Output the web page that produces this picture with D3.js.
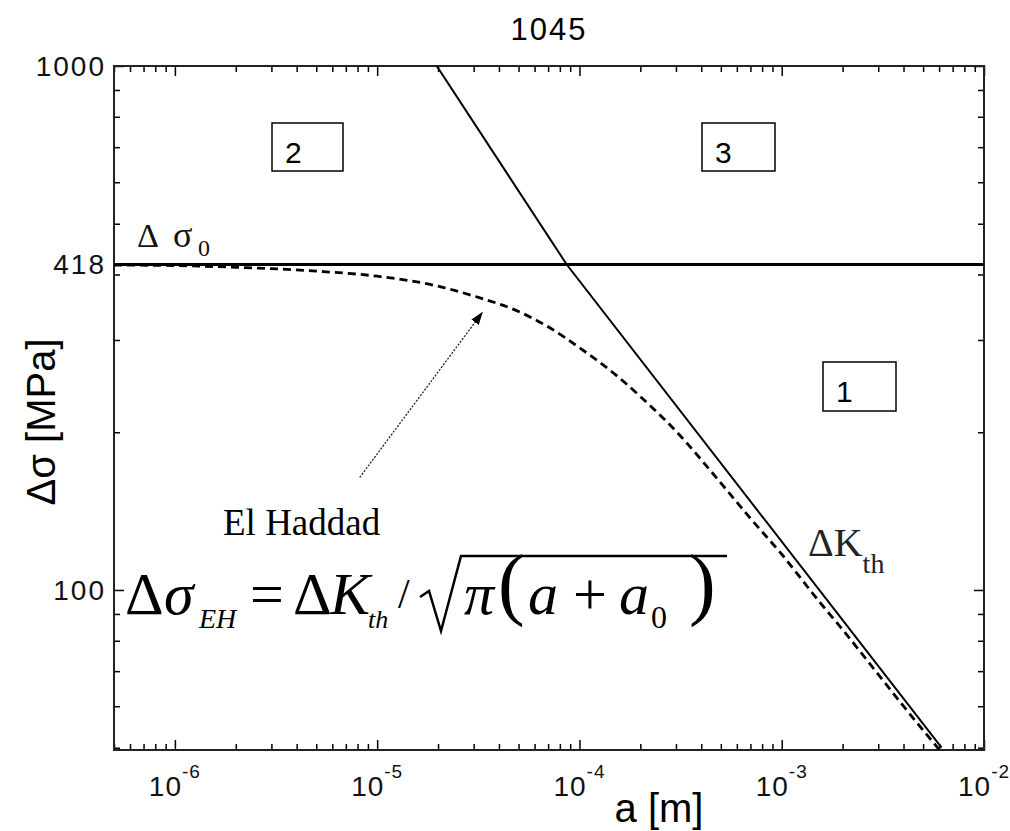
<!DOCTYPE html>
<html><head><meta charset="utf-8">
<script src="https://cdn.jsdelivr.net/npm/d3@7"></script>
<style>
html,body{margin:0;padding:0;background:#fff;}
svg{display:block;}
</style></head><body>
<svg id="chart" width="1010" height="831"></svg>
<script>
// Kitagawa-Takahashi diagram for 1045 steel: crack length a [m] vs stress range [MPa]
const titleText = "1045";
const xTickValues = [1e-6, 1e-5, 1e-4, 1e-3, 1e-2];
const xTickExponents = ["-6", "-5", "-4", "-3", "-2"];
const yTickValues = [100, 418, 1000];
const yTickLabels = ["100", "418", "1000"];
const fatigueLimit = 418;          // plain fatigue limit, MPa
// threshold line (long-crack ΔK_th limit)
const thresholdA = [1.97e-5, 8.65e-5, 6.17e-3];
const thresholdS = [1000, 418, 50];
// El Haddad curve
const elHaddadA = [5e-7, 1e-6, 2e-6, 5e-6, 1e-5, 2e-5, 3e-5, 5e-5, 7e-5, 1e-4, 1.5e-4, 2e-4, 3e-4, 5e-4, 7e-4, 1e-3, 1.5e-3, 2e-3, 3e-3, 4e-3, 5e-3, 6e-3];
const elHaddadS = [417, 416, 413, 406, 397, 380, 364, 340, 318, 290, 258, 234, 201, 160, 137, 117, 96, 84, 69, 60, 54, 49.6];
// region numbers
const regionLabels = ["2", "3", "1"];
// arrow from the "El Haddad" caption to the curve (a, Δσ)
const arrowA = [8.2e-6, 3.3e-5];
const arrowS = [164, 338];

const W = 1010, H = 831;
const mLeft = 114, mRight = 984, mTop = 66, mBottom = 750;
const sans = "'Liberation Sans', Arial, Helvetica, sans-serif";
const serif = "'Liberation Serif', 'Times New Roman', serif";

const svg = d3.select("#chart");
svg.append("rect").attr("width", W).attr("height", H).attr("fill", "#fff");

const x = d3.scaleLog().domain([5e-7, 1e-2]).range([mLeft, mRight]);
const y = d3.scaleLog().domain([49.5, 1000]).range([mBottom, mTop]);

const defs = svg.append("defs");
defs.append("clipPath").attr("id", "plotClip")
  .append("rect").attr("x", mLeft).attr("y", mTop)
  .attr("width", mRight - mLeft).attr("height", mBottom - mTop);
defs.append("marker").attr("id", "head")
  .attr("viewBox", "0 0 10 10").attr("refX", 9).attr("refY", 5)
  .attr("markerWidth", 13).attr("markerHeight", 13)
  .attr("markerUnits", "userSpaceOnUse").attr("orient", "auto")
  .append("path").attr("d", "M0,1.5 L10,5 L0,8.5 Z").attr("fill", "#000");

// ---- ticks (inside, on all four sides)
const xAll = x.ticks();
const xMinor = xAll.filter(v => !xTickValues.some(t => Math.abs(t - v) / t < 1e-6));
const yAll = y.ticks();
const yMinor = yAll.filter(v => v !== 100 && v !== 1000);
const yMajor = [100, 1000];

function tickAxis(axis, tx, ty) {
  const g = svg.append("g").attr("transform", `translate(${tx},${ty})`).call(axis);
  g.select(".domain").remove();
  g.selectAll(".tick line").attr("stroke", "#000").attr("stroke-width", 1.5);
  return g;
}
tickAxis(d3.axisBottom(x).tickValues(xTickValues).tickSize(-10).tickSizeOuter(0).tickFormat(""), 0, mBottom);
tickAxis(d3.axisBottom(x).tickValues(xMinor).tickSize(-6).tickSizeOuter(0).tickFormat(""), 0, mBottom);
tickAxis(d3.axisTop(x).tickValues(xTickValues).tickSize(-10).tickSizeOuter(0).tickFormat(""), 0, mTop);
tickAxis(d3.axisTop(x).tickValues(xMinor).tickSize(-6).tickSizeOuter(0).tickFormat(""), 0, mTop);
tickAxis(d3.axisLeft(y).tickValues(yMajor).tickSize(-10).tickSizeOuter(0).tickFormat(""), mLeft, 0);
tickAxis(d3.axisLeft(y).tickValues(yMinor).tickSize(-6).tickSizeOuter(0).tickFormat(""), mLeft, 0);
tickAxis(d3.axisRight(y).tickValues(yMajor).tickSize(-10).tickSizeOuter(0).tickFormat(""), mRight, 0);
tickAxis(d3.axisRight(y).tickValues(yMinor).tickSize(-6).tickSizeOuter(0).tickFormat(""), mRight, 0);

// frame
svg.append("rect").attr("x", mLeft).attr("y", mTop)
  .attr("width", mRight - mLeft).attr("height", mBottom - mTop)
  .attr("fill", "none").attr("stroke", "#222").attr("stroke-width", 2);

// tick labels
const xl = svg.append("g").attr("font-family", sans).attr("fill", "#111");
xTickValues.forEach((v, i) => {
  const t = xl.append("text").attr("x", x(v)).attr("y", 796)
    .attr("text-anchor", "middle").attr("font-size", 28).attr("letter-spacing", 1);
  t.append("tspan").text("10");
  t.append("tspan").attr("font-size", 19).attr("dy", -18).text(xTickExponents[i]);
});
yTickValues.forEach((v, i) => {
  xl.append("text").attr("x", 106).attr("y", y(v) + 10)
    .attr("text-anchor", "end").attr("font-size", 28).attr("letter-spacing", 2)
    .text(yTickLabels[i]);
});

// title and axis labels
svg.append("text").attr("x", (mLeft + mRight) / 2).attr("y", 40)
  .attr("text-anchor", "middle").attr("font-family", sans).attr("font-size", 31)
  .attr("letter-spacing", 2).text(titleText);
svg.append("text").attr("x", 659).attr("y", 822)
  .attr("text-anchor", "middle").attr("font-family", sans).attr("font-size", 40)
  .text("a [m]");
svg.append("text").attr("transform", "translate(55,422) rotate(-90)")
  .attr("text-anchor", "middle").attr("font-family", sans).attr("font-size", 40)
  .text("Δσ [MPa]");

// ---- curves
const plot = svg.append("g").attr("clip-path", "url(#plotClip)");
const line = d3.line().x(d => x(d[0])).y(d => y(d[1]));

plot.append("path")
  .datum([[x.domain()[0], fatigueLimit], [x.domain()[1], fatigueLimit]])
  .attr("d", line).attr("fill", "none").attr("stroke", "#000").attr("stroke-width", 3.2);

plot.append("path")
  .datum(thresholdA.map((a, i) => [a, thresholdS[i]]))
  .attr("d", line).attr("fill", "none").attr("stroke", "#000").attr("stroke-width", 2);

plot.append("path")
  .datum(elHaddadA.map((a, i) => [a, elHaddadS[i]]))
  .attr("d", d3.line().curve(d3.curveMonotoneX).x(d => x(d[0])).y(d => y(d[1])))
  .attr("fill", "none").attr("stroke", "#000").attr("stroke-width", 2.8)
  .attr("stroke-dasharray", "8,5");

// arrow
svg.append("path")
  .datum(arrowA.map((a, i) => [a, arrowS[i]]))
  .attr("d", line).attr("fill", "none").attr("stroke", "#222").attr("stroke-width", 1.3)
  .attr("stroke-dasharray", "2,1.5").attr("marker-end", "url(#head)");

// ---- region boxes
const boxes = [
  { x: 272, y: 123, w: 71, h: 48 },
  { x: 702, y: 123, w: 73, h: 48 },
  { x: 823, y: 362, w: 73, h: 49 }
];
boxes.forEach((b, i) => {
  svg.append("rect").attr("x", b.x).attr("y", b.y).attr("width", b.w).attr("height", b.h)
    .attr("fill", "#fff").attr("stroke", "#000").attr("stroke-width", 1.5);
  svg.append("text").attr("x", b.x + 13).attr("y", b.y + 40)
    .attr("font-family", sans).attr("font-size", 30).text(regionLabels[i]);
});

// ---- annotations
const s0 = svg.append("g").attr("font-family", serif).attr("fill", "#111");
s0.append("text").attr("x", 137).attr("y", 247).attr("font-size", 34).text("Δ");
s0.append("text").attr("x", 173).attr("y", 247).attr("font-size", 36).text("σ");
s0.append("text").attr("x", 198).attr("y", 256).attr("font-size", 24).text("0");

svg.append("text").attr("x", 223).attr("y", 535)
  .attr("font-family", serif).attr("font-size", 37).text("El Haddad");

const dk = svg.append("text").attr("x", 808).attr("y", 556)
  .attr("font-family", serif).attr("font-size", 40).attr("fill", "#222");
dk.append("tspan").text("ΔK");
dk.append("tspan").attr("font-size", 28).attr("dy", 17).text("th");

// El Haddad formula
const f = svg.append("g").attr("font-family", serif).attr("fill", "#000");
const fs = 60;
f.append("text").attr("x", 125).attr("y", 614).attr("font-size", fs).text("Δ");
f.append("text").attr("x", 164).attr("y", 614).attr("font-size", fs).attr("font-style", "italic").text("σ");
f.append("text").attr("x", 199).attr("y", 628).attr("font-size", 28).attr("font-style", "italic").text("EH");
f.append("text").attr("x", 250).attr("y", 614).attr("font-size", fs).text("=");
f.append("text").attr("x", 293).attr("y", 614).attr("font-size", fs).text("Δ");
f.append("text").attr("x", 330).attr("y", 614).attr("font-size", fs).attr("font-style", "italic").text("K");
f.append("text").attr("x", 368).attr("y", 628).attr("font-size", 26).attr("font-style", "italic").text("th");
f.append("text").attr("x", 398).attr("y", 608).attr("font-size", 42).text("/");
// radical sign with overbar
f.append("path").attr("d", "M420,597 L429,591 L441,631 L461,556 L727,556")
  .attr("fill", "none").attr("stroke", "#000").attr("stroke-width", 2.5).attr("stroke-linejoin", "miter");
f.append("text").attr("x", 464).attr("y", 614).attr("font-size", fs).attr("font-style", "italic").text("π");
f.append("text").attr("x", 498).attr("y", 610).attr("font-size", 80).text("(");
f.append("text").attr("x", 528).attr("y", 614).attr("font-size", fs).attr("font-style", "italic").text("a");
f.append("text").attr("x", 573).attr("y", 614).attr("font-size", fs).text("+");
f.append("text").attr("x", 619).attr("y", 614).attr("font-size", fs).attr("font-style", "italic").text("a");
f.append("text").attr("x", 651).attr("y", 628).attr("font-size", 32).text("0");
f.append("text").attr("x", 689).attr("y", 610).attr("font-size", 80).text(")");
</script>
</body></html>
